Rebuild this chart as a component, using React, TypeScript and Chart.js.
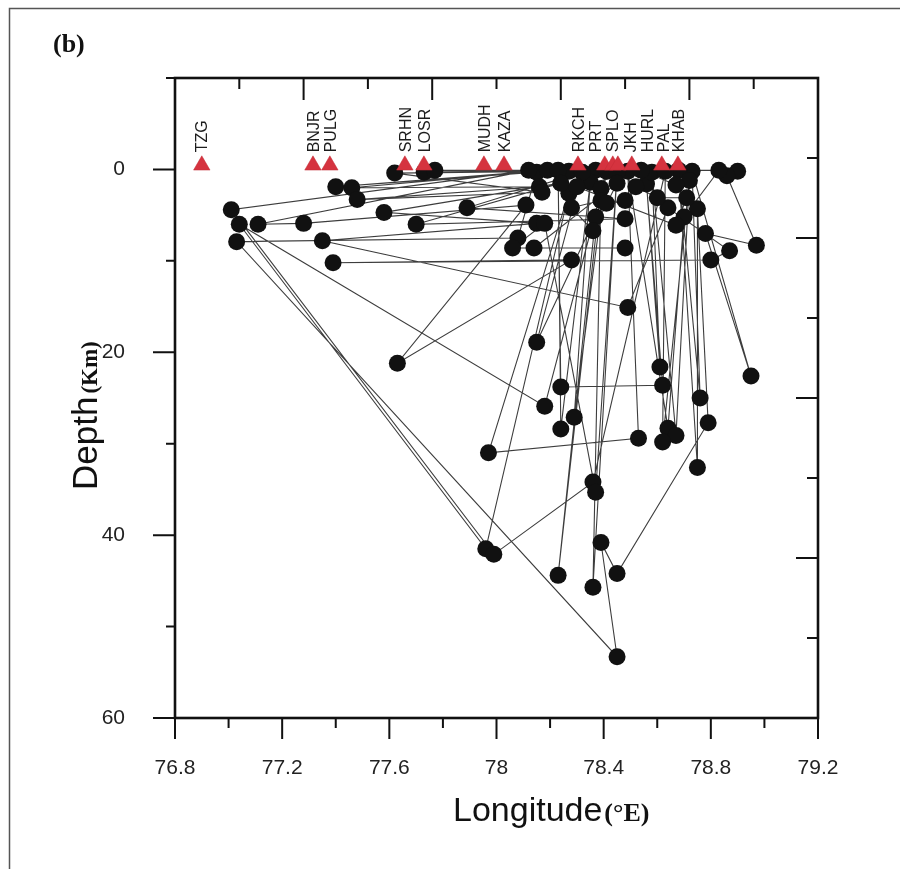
import { useEffect, useRef } from 'react';
import { Chart, registerables } from 'chart.js';

Chart.register(...registerables);

// Seismic stations (longitude °E), drawn as triangles just above the surface
const stationNames = ['TZG', 'BNJR', 'PULG', 'SRHN', 'LOSR', 'MUDH', 'KAZA', 'RKCH', 'PRT', 'SPLO', 'JKH', 'HURL', 'PAL', 'KHAB'];
const stationLon = [76.9, 77.315, 77.378, 77.658, 77.729, 77.953, 78.028, 78.304, 78.404, 78.434, 78.453, 78.505, 78.617, 78.677];
const stationLabelLon = [76.9, 77.315, 77.378, 77.658, 77.729, 77.953, 78.028, 78.304, 78.367, 78.431, 78.501, 78.561, 78.621, 78.677];
const STATION_DEPTH = -0.45;

// Hypocentres in event order (longitude °E, depth km); consecutive events are joined
const quakeLon = [
  78.9, 78.86, 78.97, 78.78, 78.95, 78.73, 78.76, 78.68, 78.75, 78.75,
  78.79, 78.45, 78.39, 78.45, 77.03, 78.08, 78.15, 77.4, 78.19, 77.46,
  78.16, 77.48, 78.17, 77.62, 78.27, 77.73, 78.37, 77.77, 78.83, 78.7,
  78.64, 78.49, 78.53, 77.97, 78.27, 77.96, 77.04, 78.18, 78.41, 78.29,
  78.35, 78.24, 78.23, 78.24, 78.62, 78.56, 78.61, 78.58, 78.67, 78.72,
  78.62, 78.63, 78.36, 77.99, 77.01, 78.12, 77.11, 77.28, 78.11, 77.63,
  78.28, 77.39, 78.8, 78.87, 78.64, 78.49, 77.35, 78.15, 77.58, 78.24,
  77.7, 78.48, 77.89, 78.32, 78.15, 78.37, 78.23, 78.39, 78.36, 78.45,
  78.37, 78.18, 78.06, 78.48, 78.14, 78.45, 78.36, 78.28, 78.39, 78.41,
  78.48, 78.52, 78.6, 78.71, 78.67, 78.3, 78.54, 78.67,
];
const quakeDepth = [
  0.2, 0.7, 8.3, 7.0, 22.6, 0.2, 25.0, 0.1, 32.6, 4.3,
  27.7, 44.2, 40.8, 53.3, 7.9, 7.5, 0.3, 1.9, 0.1, 2.0,
  1.9, 3.3, 2.5, 0.4, 0.2, 0.3, 0.1, 0.1, 0.1, 5.2,
  28.3, 0.2, 29.4, 31.0, 2.6, 41.5, 6.0, 25.9, 0.2, 27.1,
  1.4, 28.4, 0.1, 23.8, 23.6, 1.6, 21.6, 0.3, 29.1, 1.2,
  29.8, 0.2, 34.2, 42.1, 4.4, 0.1, 6.0, 5.9, 3.9, 21.2,
  9.9, 10.2, 9.9, 8.9, 4.2, 15.1, 7.8, 5.9, 4.7, 1.5,
  6.0, 5.4, 4.2, 0.3, 18.9, 5.2, 44.4, 2.1, 45.7, 0.3,
  35.3, 5.9, 8.6, 8.6, 8.6, 1.5, 6.7, 4.2, 3.4, 3.7,
  3.4, 1.9, 3.1, 3.1, 6.1, 1.9, 0.1, 1.7,
];

// Labelled axis ticks
const xTickValues = [76.8, 77.2, 77.6, 78, 78.4, 78.8, 79.2];
const yTickValues = [0, 20, 40, 60];

const SANS = '"Liberation Sans", Arial, Helvetica, sans-serif';
const SERIF = '"Liberation Serif", "Times New Roman", serif';

const isIn = (list: number[], v: number) => list.some((t) => Math.abs(t - v) < 1e-6);

const framePlugin = {
  id: 'depthSectionFrame',
  afterDatasetsDraw(chart: any) {
    const { ctx, chartArea: a, scales } = chart;
    const xs = scales.x;
    const ys = scales.y;
    ctx.save();

    // station codes, written vertically above each triangle
    ctx.fillStyle = '#1c1c1c';
    ctx.font = `16px ${SANS}`;
    ctx.textAlign = 'left';
    ctx.textBaseline = 'alphabetic';
    const baseY = ys.getPixelForValue(STATION_DEPTH) - 13;
    stationNames.forEach((name, i) => {
      const px = xs.getPixelForValue(stationLabelLon[i]);
      ctx.save();
      ctx.translate(px, baseY);
      ctx.rotate(-Math.PI / 2);
      ctx.fillText(name, 0, 5.7);
      ctx.restore();
    });

    // plot frame
    ctx.strokeStyle = '#111';
    ctx.lineWidth = 2.6;
    ctx.strokeRect(a.left, a.top, a.right - a.left, a.bottom - a.top);

    // tick marks
    ctx.lineWidth = 2;
    ctx.beginPath();
    xs.ticks.forEach((t: any) => {
      const px = xs.getPixelForValue(t.value);
      const len = isIn(xTickValues, t.value) ? 21 : 10;
      ctx.moveTo(px, a.bottom);
      ctx.lineTo(px, a.bottom + len);
    });
    ys.ticks.forEach((t: any) => {
      const py = ys.getPixelForValue(t.value);
      const len = isIn(yTickValues, t.value) ? 22 : 9;
      ctx.moveTo(a.left, py);
      ctx.lineTo(a.left - len, py);
    });
    const w = a.right - a.left;
    const h = a.bottom - a.top;
    for (let k = 1; k < 10; k++) {
      const px = a.left + (w * k) / 10;
      const len = k % 2 === 0 ? 22 : 11;
      ctx.moveTo(px, a.top);
      ctx.lineTo(px, a.top + len);
    }
    for (let k = 1; k < 8; k++) {
      const py = a.top + (h * k) / 8;
      const len = k % 2 === 0 ? 22 : 11;
      ctx.moveTo(a.right, py);
      ctx.lineTo(a.right - len, py);
    }
    ctx.stroke();
    ctx.restore();
  },
  afterDraw(chart: any) {
    const { ctx } = chart;
    ctx.save();

    // outer panel border
    ctx.strokeStyle = '#555';
    ctx.lineWidth = 1.5;
    ctx.beginPath();
    ctx.moveTo(9.5, 869);
    ctx.lineTo(9.5, 8.5);
    ctx.lineTo(900, 8.5);
    ctx.stroke();

    ctx.fillStyle = '#111';
    ctx.textBaseline = 'alphabetic';
    ctx.textAlign = 'left';

    // panel tag
    ctx.font = `bold 26px ${SERIF}`;
    ctx.fillText('(b)', 53, 52);

    // x-axis title
    ctx.font = `34px ${SANS}`;
    ctx.fillText('Longitude', 453, 821);
    const lw = ctx.measureText('Longitude').width;
    ctx.font = `bold 26px ${SERIF}`;
    ctx.fillText('(°E)', 453 + lw + 2, 821);

    // y-axis title
    ctx.save();
    ctx.translate(97, 490);
    ctx.rotate(-Math.PI / 2);
    ctx.font = `35px ${SANS}`;
    ctx.fillText('Depth', 0, 0);
    const dw = ctx.measureText('Depth').width;
    ctx.font = `bold 23px ${SERIF}`;
    ctx.fillText('(Km)', dw + 3, 0);
    ctx.restore();

    ctx.restore();
  },
};

export default function App() {
  const canvasRef = useRef<HTMLCanvasElement | null>(null);

  useEffect(() => {
    const canvas = canvasRef.current;
    if (!canvas) return;

    const stationPoints = stationLon.map((x) => ({ x, y: STATION_DEPTH }));
    const quakePoints = quakeLon.map((x, i) => ({ x, y: quakeDepth[i] }));

    const chart = new Chart(canvas, {
      type: 'scatter',
      data: {
        datasets: [
          {
            label: 'Stations',
            data: stationPoints,
            pointStyle: 'triangle',
            pointRadius: 9.5,
            pointBackgroundColor: '#d5333f',
            pointBorderColor: '#c22c37',
            pointBorderWidth: 0.5,
            showLine: false,
          },
          {
            label: 'Events',
            data: quakePoints,
            showLine: true,
            borderColor: '#3d3d3d',
            borderWidth: 1.1,
            pointRadius: 8.5,
            pointBackgroundColor: '#111',
            pointBorderColor: '#111',
            pointBorderWidth: 0,
          },
        ],
      },
      options: {
        animation: false,
        responsive: false,
        devicePixelRatio: 1,
        events: [],
        layout: { padding: { left: 0, right: 82, top: 78, bottom: 0 } },
        plugins: {
          legend: { display: false },
          tooltip: { enabled: false },
        },
        scales: {
          x: {
            type: 'linear',
            min: 76.8,
            max: 79.2,
            grid: { display: false, drawTicks: false },
            border: { display: false },
            ticks: {
              stepSize: 0.2,
              autoSkip: false,
              maxRotation: 0,
              padding: 38,
              color: '#222',
              font: { family: SANS, size: 21 },
              callback: (v: any) => (isIn(xTickValues, Number(v)) ? String(parseFloat(Number(v).toFixed(1))) : ''),
            },
            afterFit: (s: any) => {
              s.height = 151;
            },
          },
          y: {
            type: 'linear',
            reverse: true,
            min: -10,
            max: 60,
            grid: { display: false, drawTicks: false },
            border: { display: false },
            ticks: {
              stepSize: 10,
              autoSkip: false,
              padding: 50,
              color: '#222',
              font: { family: SANS, size: 21 },
              callback: (v: any) => (isIn(yTickValues, Number(v)) ? String(v) : ''),
            },
            afterFit: (s: any) => {
              s.width = 175;
            },
          },
        },
      },
      plugins: [framePlugin],
    });

    return () => chart.destroy();
  }, []);

  return (
    <div style={{ position: 'fixed', left: 0, top: 0, width: 900, height: 869, background: '#fff' }}>
      <canvas ref={canvasRef} width={900} height={869} style={{ display: 'block', width: 900, height: 869 }} />
    </div>
  );
}
